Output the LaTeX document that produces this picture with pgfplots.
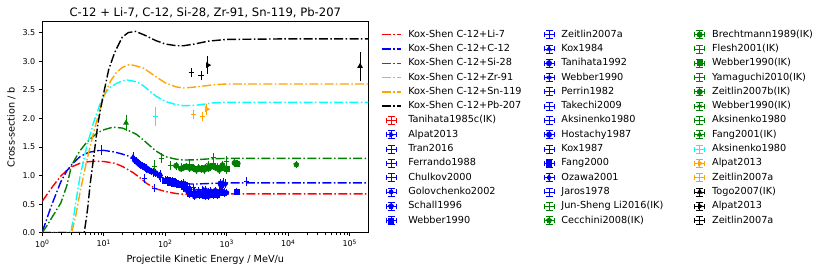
\documentclass[border=0pt]{standalone}
\usepackage{fontspec}
\setmainfont{DejaVu Sans}
\usepackage{pgfplots}
\pgfplotsset{compat=1.18}
\usetikzlibrary{plotmarks}
\definecolor{mred}{RGB}{255,0,0}
\definecolor{mblue}{RGB}{0,0,255}
\definecolor{mgreen}{RGB}{0,128,0}
\definecolor{mcyan}{RGB}{0,255,255}
\definecolor{morange}{RGB}{255,165,0}
\pgfplotsset{
  ks/.style={line width=1.4pt, dash pattern=on 9pt off 2.4pt on 1.5pt off 2.4pt,
    legend image code/.code={\draw[##1] (0pt,0pt)--(19pt,0pt);}},
  dp/.style={only marks, mark size=2.6pt, line width=0.8pt, mark options={solid, line width=0.8pt},
    legend image code/.code={%
      \draw[##1,solid] (4.5pt,0pt) -- (14.5pt,0pt) (9.5pt,-4pt) -- (9.5pt,4pt)
        (4.5pt,-2.5pt) -- (4.5pt,2.5pt) (14.5pt,-2.5pt) -- (14.5pt,2.5pt)
        (6pt,4pt) -- (13pt,4pt) (6pt,-4pt) -- (13pt,-4pt);
      \draw[##1] plot coordinates {(9.5pt,0pt)};},
    error bars/y dir=both, error bars/y explicit,
    error bars/error bar style={line width=0.8pt, solid},
    error bars/error mark options={line width=0.8pt, mark size=2.6pt, solid}},
  rtri/.style={mark=triangle*, mark options={rotate=-90}},
}
\begin{document}
\begin{tikzpicture}
\useasboundingbox (0,0) rectangle (830pt,272pt);
\begin{axis}[
  at={(42.3pt,39.3pt)}, anchor=south west,
  scale only axis, width=326pt, height=211pt,
  xmode=log, xmin=1, xmax=2e5, ymin=0, ymax=3.69,
  xtick={1,10,100,1000,10000,100000},
  xticklabels={10\textsuperscript{0},10\textsuperscript{1},10\textsuperscript{2},10\textsuperscript{3},10\textsuperscript{4},10\textsuperscript{5}},
  ytick={0,0.5,1,1.5,2,2.5,3,3.5},
  yticklabel style={/pgf/number format/.cd, fixed, fixed zerofill, precision=1, assume math mode=true},
  tick align=outside, tick pos=left,
  major tick length=3.5pt, minor tick length=2pt,
  every tick/.style={black, line width=0.8pt},
  every minor tick/.style={black, line width=0.6pt},
  axis line style={line width=0.8pt},
  tick label style={font=\fontsize{8}{9.6}\selectfont},
  title={C-12 + Li-7, C-12, Si-28, Zr-91, Sn-119, Pb-207},
  title style={font=\fontsize{11.6}{13}\selectfont, at={(0.5,1)}, anchor=base, yshift=-1pt},
  xlabel={Projectile Kinetic Energy / MeV/u},
  xlabel style={font=\fontsize{9.7}{11}\selectfont, at={(axis description cs:0.5,-0.1436)}, anchor=base},
  ylabel={Cross-section / b},
  ylabel style={font=\fontsize{9.7}{11}\selectfont, at={(axis description cs:-0.095,0.5)}, anchor=center},
  legend columns=14, transpose legend,
  legend cell align=left,
  legend style={at={(1,1)}, anchor=north west, xshift=12.4pt, yshift=-8pt,
    draw=none, fill=none, font=\fontsize{9.7}{11}\selectfont,
    inner sep=0pt, row sep=4.8pt,
    nodes={inner sep=0pt, text height=7.3pt, text depth=2.2pt},
    /tikz/every odd column/.append style={column sep=7pt},
    /tikz/column 2/.append style={column sep=22pt},
    /tikz/column 4/.append style={column sep=31pt}},
]
% Kox-Shen curves
\addplot[ks, color=mred] coordinates {(1,0.55) (1.25,0.70) (1.5,0.82) (2,0.99) (2.5,1.09) (3,1.15) (4,1.21) (5,1.235) (7,1.25) (10,1.245) (15,1.215) (20,1.16) (25,1.10) (30,1.05) (40,0.95) (50,0.86) (70,0.77) (100,0.72) (150,0.685) (200,0.672) (300,0.67) (500,0.675) (1000,0.68) (10000,0.68) (200000,0.68)};
\addlegendentry{Kox-Shen C-12+Li-7}
\addplot[ks, color=mblue] coordinates {(1,0.02) (1.15,0.2) (1.33,0.40) (1.5,0.55) (2,0.89) (2.5,1.08) (3,1.19) (4,1.32) (5,1.38) (6,1.41) (8,1.435) (10,1.44) (15,1.41) (20,1.375) (25,1.34) (30,1.30) (40,1.21) (50,1.13) (70,1.02) (100,0.94) (150,0.88) (200,0.855) (300,0.85) (500,0.86) (1000,0.87) (10000,0.87) (200000,0.87)};
\addlegendentry{Kox-Shen C-12+C-12}
\addplot[ks, color=mgreen] coordinates {(1,0) (1.2,0.13) (1.5,0.30) (2,0.52) (2.5,0.82) (3,1.18) (4,1.42) (5,1.55) (6,1.64) (8,1.75) (10,1.80) (14,1.845) (20,1.83) (26,1.78) (34,1.72) (44,1.62) (70,1.43) (100,1.33) (150,1.285) (200,1.27) (300,1.275) (500,1.29) (1000,1.30) (10000,1.30) (200000,1.30)};
\addlegendentry{Kox-Shen C-12+Si-28}
\addplot[ks, color=mcyan] coordinates {(1,0) (2.9,0) (3.2,0.25) (3.5,0.53) (4.1,0.98) (5.25,1.50) (6.7,1.90) (8.6,2.24) (10,2.39) (11.1,2.47) (13,2.55) (16,2.61) (20,2.655) (24,2.67) (34,2.64) (44,2.57) (70,2.39) (100,2.295) (150,2.24) (200,2.22) (320,2.23) (600,2.27) (1000,2.28) (10000,2.28) (200000,2.28)};
\addlegendentry{Kox-Shen C-12+Zr-91}
\addplot[ks, color=morange] coordinates {(1,0) (3,0) (3.5,0.30) (4.1,0.70) (5.25,1.25) (6.7,1.72) (8.6,2.15) (10,2.38) (11.1,2.50) (13,2.66) (16,2.80) (20,2.89) (25,2.935) (30,2.93) (44,2.88) (70,2.73) (100,2.62) (150,2.55) (200,2.53) (320,2.55) (650,2.59) (1000,2.60) (10000,2.60) (200000,2.60)};
\addlegendentry{Kox-Shen C-12+Sn-119}
\addplot[ks, color=black] coordinates {(1,0) (4.8,0) (5.2,0.25) (5.5,0.45) (6,0.85) (7,1.40) (8,1.90) (9,2.2) (10,2.45) (12,2.85) (15,3.15) (20,3.42) (25,3.5) (33,3.52) (45,3.46) (70,3.36) (100,3.30) (150,3.27) (200,3.27) (300,3.30) (500,3.35) (1000,3.38) (10000,3.39) (200000,3.39)};
\addlegendentry{Kox-Shen C-12+Pb-207}
% data
\addplot[dp, color=mred, mark=+] table[x index=0, y index=1, y error index=2, row sep=\\] {790 0.74 0.02\\};
\addlegendentry{Tanihata1985c(IK)}
\addplot[dp, color=mblue, rtri] table[x index=0, y index=1, y error index=2, row sep=\\] {300 0.70 0.03\\ 420 0.73 0.03\\ 500 0.71 0.03\\};
\addlegendentry{Alpat2013}
\addplot[dp, color=mblue, mark=+] table[x index=0, y index=1, y error index=2, row sep=\\] {50 1.12 0.03\\ 64 1.05 0.03\\};
\addlegendentry{Tran2016}
\addplot[dp, color=mblue, mark=+] table[x index=0, y index=1, y error index=2, row sep=\\] {83 0.97 0.03\\ 120 0.90 0.03\\};
\addlegendentry{Ferrando1988}
\addplot[dp, color=mblue, mark=+] table[x index=0, y index=1, y error index=2, row sep=\\] {950 0.86 0.03\\};
\addlegendentry{Chulkov2000}
\addplot[dp, color=mblue, mark=*, mark size=2pt] table[x index=0, y index=1, y error index=2, row sep=\\] {220 0.74 0.02\\ 250 0.76 0.02\\ 300 0.70 0.02\\ 350 0.73 0.02\\ 400 0.69 0.02\\ 450 0.75 0.02\\ 500 0.70 0.02\\ 550 0.73 0.02\\ 600 0.70 0.02\\ 650 0.74 0.02\\ 700 0.69 0.02\\ 750 0.72 0.02\\ 850 0.73 0.02\\ 900 0.71 0.02\\ 1000 0.70 0.02\\};
\addlegendentry{Golovchenko2002}
\addplot[dp, color=mblue, mark=pentagon*] table[x index=0, y index=1, y error index=2, row sep=\\] {250 0.71 0.02\\ 300 0.64 0.02\\ 350 0.68 0.02\\ 400 0.65 0.02\\ 450 0.67 0.02\\ 500 0.64 0.02\\ 550 0.68 0.02\\ 600 0.66 0.02\\ 650 0.67 0.02\\ 700 0.65 0.02\\ 800 0.70 0.02\\};
\addlegendentry{Schall1996}
\addplot[dp, color=mblue, mark=square*] table[x index=0, y index=1, y error index=2, row sep=\\] {250 0.68 0.02\\ 360 0.66 0.02\\ 450 0.64 0.02\\ 550 0.67 0.02\\ 700 0.66 0.02\\ 900 0.69 0.02\\ 1450 0.72 0.02\\};
\addlegendentry{Webber1990}
\addplot[dp, color=mblue, mark=+] table[x index=0, y index=1, y error index=2, row sep=\\] {290 0.66 0.02\\ 400 0.69 0.02\\};
\addlegendentry{Zeitlin2007a}
\addplot[dp, color=mblue, mark=triangle*] table[x index=0, y index=1, y error index=2, row sep=\\] {30 1.32 0.04\\ 83 1.02 0.03\\ 200 0.86 0.03\\ 870 0.87 0.03\\};
\addlegendentry{Kox1984}
\addplot[dp, color=mblue, mark=*] table[x index=0, y index=1, y error index=2, row sep=\\] {790 0.86 0.03\\ 820 0.82 0.02\\};
\addlegendentry{Tanihata1992}
\addplot[dp, color=mblue, mark=asterisk] table[x index=0, y index=1, y error index=2, row sep=\\] {200 0.78 0.02\\ 300 0.74 0.02\\ 420 0.72 0.02\\ 600 0.70 0.02\\};
\addlegendentry{Webber1990}
\addplot[dp, color=mblue, mark=+] table[x index=0, y index=1, y error index=2, row sep=\\] {46 0.95 0.03\\ 67 0.78 0.03\\};
\addlegendentry{Perrin1982}
\addplot[dp, color=mblue, mark=+] table[x index=0, y index=1, y error index=2, row sep=\\] {80 0.98 0.02\\ 100 0.93 0.02\\ 130 0.89 0.02\\ 160 0.86 0.02\\ 200 0.83 0.02\\ 250 0.80 0.02\\ 290 0.79 0.02\\ 400 0.75 0.02\\};
\addlegendentry{Takechi2009}
\addplot[dp, color=mblue, mark=+] table[x index=0, y index=1, y error index=2, row sep=\\] {2080 0.89 0.03\\};
\addlegendentry{Aksinenko1980}
\addplot[dp, color=mblue, mark=*] table[x index=0, y index=1, y error index=2, row sep=\\] {32 1.27 0.02\\ 34 1.25 0.02\\ 36 1.22 0.02\\ 38 1.20 0.02\\ 40 1.18 0.02\\ 42 1.17 0.02\\ 45 1.16 0.02\\ 48 1.13 0.02\\ 50 1.12 0.02\\ 55 1.09 0.02\\ 60 1.07 0.02\\ 70 1.04 0.02\\ 80 1.00 0.02\\};
\addlegendentry{Hostachy1987}
\addplot[dp, color=mblue, mark=+] table[x index=0, y index=1, y error index=2, row sep=\\] {9 1.44 0.04\\};
\addlegendentry{Kox1987}
\addplot[dp, color=mblue, mark=square*] table[x index=0, y index=1, y error index=2, row sep=\\] {100 0.91 0.02\\ 110 0.93 0.02\\ 120 0.88 0.02\\ 130 0.90 0.02\\ 140 0.86 0.02\\ 150 0.87 0.02\\ 170 0.84 0.02\\ 180 0.86 0.02\\ 200 0.80 0.02\\ 210 0.83 0.02\\ 230 0.77 0.02\\};
\addlegendentry{Fang2000}
\addplot[dp, color=mblue, mark=diamond*] table[x index=0, y index=1, y error index=2, row sep=\\] {950 0.85 0.02\\};
\addlegendentry{Ozawa2001}
\addplot[dp, color=mblue, mark=+] table[x index=0, y index=1, y error index=2, row sep=\\] {870 0.88 0.03\\};
\addlegendentry{Jaros1978}
\addplot[dp, color=mgreen, mark=+] table[x index=0, y index=1, y error index=2, row sep=\\] {67 1.155 0.075\\};
\addlegendentry{Jun-Sheng Li2016(IK)}
\addplot[dp, color=mgreen, mark=pentagon*] table[x index=0, y index=1, y error index=2, row sep=\\] {13500 1.19 0.02\\};
\addlegendentry{Cecchini2008(IK)}
\addplot[dp, color=mgreen, mark=*] table[x index=0, y index=1, y error index=2, row sep=\\] {150 1.17 0.02\\ 180 1.12 0.02\\ 200 1.14 0.02\\ 220 1.16 0.02\\ 250 1.13 0.02\\ 280 1.14 0.02\\ 300 1.12 0.02\\ 320 1.10 0.02\\ 350 1.13 0.02\\ 380 1.11 0.02\\ 400 1.12 0.02\\ 430 1.10 0.02\\ 450 1.14 0.02\\ 500 1.12 0.02\\ 550 1.15 0.02\\ 650 1.14 0.02\\ 750 1.10 0.02\\ 850 1.18 0.02\\};
\addlegendentry{Brechtmann1989(IK)}
\addplot[dp, color=mgreen, mark=+] table[x index=0, y index=1, y error index=2, row sep=\\] {120 1.18 0.03\\ 180 1.15 0.03\\ 290 1.13 0.03\\};
\addlegendentry{Flesh2001(IK)}
\addplot[dp, color=mgreen, mark=square*] table[x index=0, y index=1, y error index=2, row sep=\\] {600 1.17 0.02\\ 800 1.13 0.02\\ 1000 1.11 0.02\\ 1450 1.21 0.02\\};
\addlegendentry{Webber1990(IK)}
\addplot[dp, color=mgreen, mark=+] table[x index=0, y index=1, y error index=2, row sep=\\] {87 1.30 0.04\\ 250 1.20 0.03\\ 983 1.25 0.04\\};
\addlegendentry{Yamaguchi2010(IK)}
\addplot[dp, color=mgreen, mark=*] table[x index=0, y index=1, y error index=2, row sep=\\] {980 1.12 0.05\\ 1340 1.22 0.02\\ 1500 1.21 0.02\\};
\addlegendentry{Zeitlin2007b(IK)}
\addplot[dp, color=mgreen, mark=asterisk] table[x index=0, y index=1, y error index=2, row sep=\\] {500 1.19 0.02\\ 700 1.16 0.02\\};
\addlegendentry{Webber1990(IK)}
\addplot[dp, color=mgreen, mark=+] table[x index=0, y index=1, y error index=2, row sep=\\] {600 1.31 0.04\\};
\addlegendentry{Aksinenko1980}
\addplot[dp, color=mgreen, mark=triangle*] table[x index=0, y index=1, y error index=2, row sep=\\] {23 1.92 0.1\\};
\addlegendentry{Fang2001(IK)}
\addplot[dp, color=mcyan, mark=+] table[x index=0, y index=1, y error index=2, row sep=\\] {70 2.03 0.12\\};
\addlegendentry{Aksinenko1980}
\addplot[dp, color=morange, rtri] table[x index=0, y index=1, y error index=2, row sep=\\] {470 2.16 0.05\\};
\addlegendentry{Alpat2013}
\addplot[dp, color=morange, mark=+] table[x index=0, y index=1, y error index=2, row sep=\\] {290 2.07 0.03\\ 400 2.03 0.03\\};
\addlegendentry{Zeitlin2007a}
\addplot[dp, color=black, mark=triangle*] table[x index=0, y index=1, y error index=2, row sep=\\] {147000 2.91 0.21\\};
\addlegendentry{Togo2007(IK)}
\addplot[dp, color=black, rtri] table[x index=0, y index=1, y error index=2, row sep=\\] {490 2.93 0.11\\};
\addlegendentry{Alpat2013}
\addplot[dp, color=black, mark=+] table[x index=0, y index=1, y error index=2, row sep=\\] {265 2.80 0.03\\ 380 2.75 0.04\\};
\addlegendentry{Zeitlin2007a}
\end{axis}
\end{tikzpicture}
\end{document}
